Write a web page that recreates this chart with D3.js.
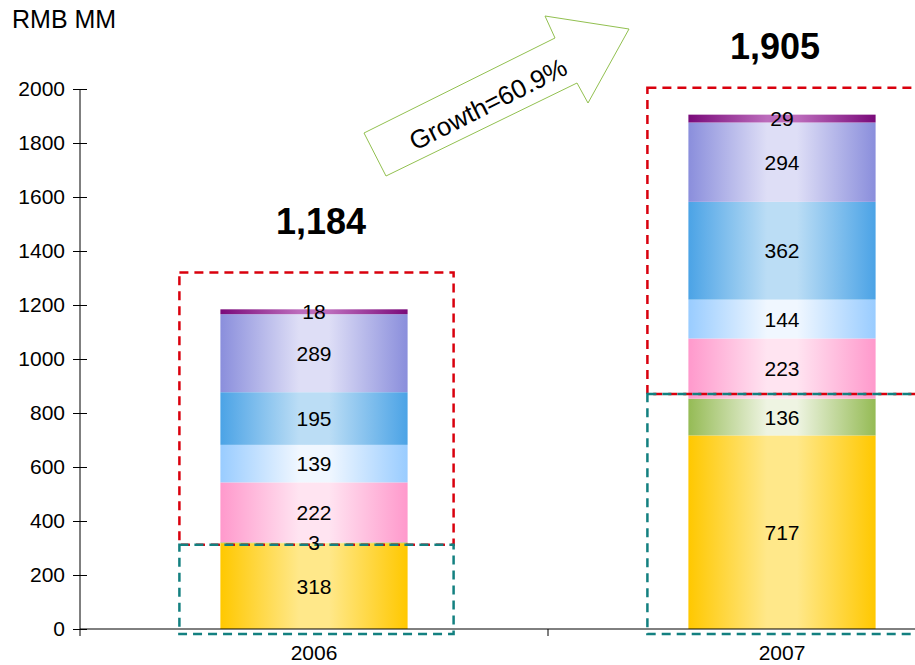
<!DOCTYPE html>
<html>
<head>
<meta charset="utf-8">
<script src="https://cdn.jsdelivr.net/npm/d3@7"></script>
<style>
  body { margin: 0; background: #fff; }
  svg { display: block; font-family: Arial, "Liberation Sans", sans-serif; }
</style>
</head>
<body>
<div id="chart"></div>
<script>
// Data
const years = ["2006", "2007"];
const segments = ["yellow", "green", "pink", "lightblue", "blue", "lavender", "purple"];
const values2006 = [318, 3, 222, 139, 195, 289, 18];
const values2007 = [717, 136, 223, 144, 362, 294, 29];
const totals = [1184, 1905];
const yTicks = [0, 200, 400, 600, 800, 1000, 1200, 1400, 1600, 1800, 2000];
const growthLabel = "Growth=60.9%";
// annotation boxes: top of red box, split between red and teal box
const boxTops = [1320, 2005];
const boxSplits = [312, 870];

// Gradient colours (edge, centre)
const segColors = {
    yellow: ["#FFC800", "#FFE88A"],
    green: ["#95BB55", "#EEF4E2"],
    pink: ["#FF99CC", "#FFE4F1"],
    lightblue: ["#99CCFF", "#F0F7FF"],
    blue: ["#4BA3E6", "#BBDDF5"],
    lavender: ["#8A8EDC", "#DEDEF6"],
    purple: ["#7A0A7A", "#BC6CBC"]
};

const W = 915, H = 665;
const svg = d3.select("#chart").append("svg")
    .attr("width", W)
    .attr("height", H);

const defs = svg.append("defs");
segments.forEach(s => {
    const g = defs.append("linearGradient")
        .attr("id", "grad-" + s)
        .attr("x1", "0%").attr("x2", "100%")
        .attr("y1", "0%").attr("y2", "0%");
    const [edge, mid] = segColors[s];
    g.append("stop").attr("offset", "0%").attr("stop-color", edge);
    g.append("stop").attr("offset", "42%").attr("stop-color", mid);
    g.append("stop").attr("offset", "58%").attr("stop-color", mid);
    g.append("stop").attr("offset", "100%").attr("stop-color", edge);
});

// Scales
const x = d3.scaleBand()
    .domain(years)
    .range([80, 1016])
    .paddingInner(0.6)
    .paddingOuter(0.3);

const y = d3.scaleLinear()
    .domain([0, 2000])
    .range([629, 89]);

// Stack the series
const rows = years.map((yr, i) => {
    const vals = i === 0 ? values2006 : values2007;
    const row = { year: yr };
    segments.forEach((s, j) => row[s] = vals[j]);
    return row;
});
const stacked = d3.stack().keys(segments)(rows);
const cells = stacked.flatMap(s => s.map(p => ({ key: s.key, year: p.data.year, y0: p[0], y1: p[1] })));

// Bars
svg.append("g").selectAll("rect")
    .data(cells)
    .join("rect")
    .attr("fill", d => `url(#grad-${d.key})`)
    .attr("x", d => x(d.year))
    .attr("width", x.bandwidth())
    .attr("y", d => y(d.y1))
    .attr("height", d => y(d.y0) - y(d.y1));

// Dashed annotation boxes
const boxPadL = 41, boxPadR = 46;
years.forEach((yr, i) => {
    const bx0 = x(yr) - boxPadL;
    const bx1 = x(yr) + x.bandwidth() + boxPadR;
    // red box around upper segments
    svg.append("rect")
        .attr("x", bx0).attr("y", y(boxTops[i]))
        .attr("width", bx1 - bx0)
        .attr("height", y(boxSplits[i]) - y(boxTops[i]))
        .attr("fill", "none")
        .attr("stroke", "#D9000D")
        .attr("stroke-width", 2.5)
        .attr("stroke-dasharray", "9,6");
    // teal box around base segments
    svg.append("rect")
        .attr("x", bx0).attr("y", y(boxSplits[i]))
        .attr("width", bx1 - bx0)
        .attr("height", y(0) - y(boxSplits[i]) + 5)
        .attr("fill", "none")
        .attr("stroke", "#138080")
        .attr("stroke-width", 2.5)
        .attr("stroke-dasharray", "9,6");
});

// Segment labels (drawn over the boxes)
svg.append("g").selectAll("text")
    .data(cells)
    .join("text")
    .attr("x", d => x(d.year) + x.bandwidth() / 2)
    .attr("y", d => (y(d.y0) + y(d.y1)) / 2)
    .attr("dy", "0.36em")
    .attr("text-anchor", "middle")
    .attr("fill", "#000")
    .style("font-size", "21px")
    .text(d => d.y1 - d.y0);

// Y axis
const yAxis = svg.append("g")
    .attr("transform", "translate(80,0)")
    .call(d3.axisLeft(y).tickValues(yTicks).tickFormat(d3.format("d")).tickSize(7).tickSizeOuter(0));
yAxis.select(".domain").attr("stroke", "#000").attr("d", `M0,${y(2000)}V${y(0)}`);
yAxis.selectAll(".tick line").attr("x1", -7).attr("x2", 7).attr("stroke", "#000");
yAxis.selectAll(".tick text")
    .attr("x", -15)
    .style("font-size", "21px")
    .style("font-family", "Arial, 'Liberation Sans', sans-serif")
    .attr("fill", "#000");

// X axis
const xAxis = svg.append("g")
    .attr("transform", `translate(0,${y(0)})`);
xAxis.append("line")
    .attr("x1", 80).attr("x2", W)
    .attr("stroke", "#000");
const bounds = [x.range()[0] + x.step(), x.range()[0]];
xAxis.selectAll(".sep")
    .data(bounds)
    .join("line")
    .attr("x1", d => d).attr("x2", d => d)
    .attr("y1", 0).attr("y2", 7)
    .attr("stroke", "#000");
xAxis.selectAll(".cat")
    .data(years)
    .join("text")
    .attr("x", d => x(d) + x.bandwidth() / 2)
    .attr("y", 31)
    .attr("text-anchor", "middle")
    .style("font-size", "21px")
    .text(d => d);

// Totals
const totalDx = [7, -7], totalDy = [39, 29];
svg.selectAll(".total")
    .data(years)
    .join("text")
    .attr("x", (d, i) => x(d) + x.bandwidth() / 2 + totalDx[i])
    .attr("y", (d, i) => y(boxTops[i]) - totalDy[i])
    .attr("text-anchor", "middle")
    .style("font-size", "36px")
    .style("font-weight", "bold")
    .text((d, i) => d3.format(",")(totals[i]));

// Growth arrow
const arrowPts = [[364, 133], [555, 38], [545, 16], [629, 29], [588, 103], [577, 83], [386, 176]];
svg.append("polygon")
    .attr("points", arrowPts.map(p => p.join(",")).join(" "))
    .attr("fill", "#fff")
    .attr("stroke", "#92C050")
    .attr("stroke-width", 1);
svg.append("text")
    .attr("transform", "translate(488,104) rotate(-26.7)")
    .attr("text-anchor", "middle")
    .attr("dy", "0.35em")
    .style("font-size", "26px")
    .text(growthLabel);

// Unit label
svg.append("text")
    .attr("x", 12).attr("y", 28)
    .style("font-size", "25px")
    .text("RMB MM");
</script>
</body>
</html>
